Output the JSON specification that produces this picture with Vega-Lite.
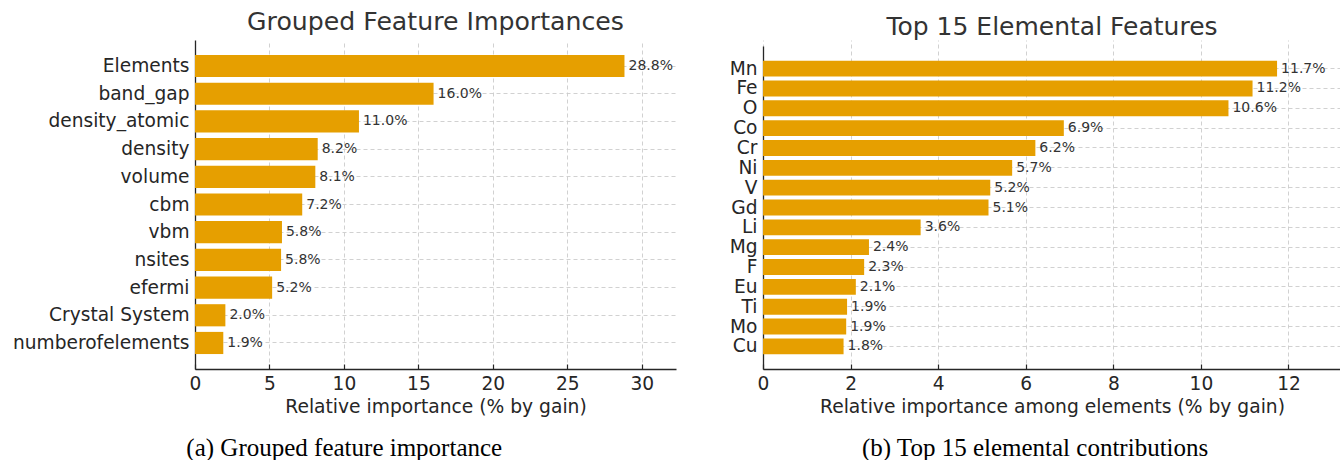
{
  "$schema": "https://vega.github.io/schema/vega-lite/v6.json",
  "padding": {"left": 12, "top": 9, "right": 0, "bottom": 0},
  "spacing": 53,
  "background": "white",
  "config": {
    "font": "DejaVu Sans",
    "view": {"stroke": null},
    "axis": {
      "domainColor": "#262626",
      "domainWidth": 1.3,
      "tickColor": "#262626",
      "tickSize": -5,
      "tickWidth": 1.2,
      "labelColor": "#262626",
      "labelFont": "DejaVu Sans",
      "labelFontSize": 18.6,
      "titleColor": "#262626",
      "titleFont": "DejaVu Sans",
      "titleFontSize": 18.7,
      "titleFontWeight": "normal",
      "gridColor": "#cccccc",
      "gridDash": [4, 3],
      "gridWidth": 0.9,
      "zindex": 1
    }
  },
  "datasets": {
    "grouped": [
      {"feature": "Elements", "importance": 28.84, "label": "28.8%"},
      {"feature": "band_gap", "importance": 16.02, "label": "16.0%"},
      {"feature": "density_atomic", "importance": 11.01, "label": "11.0%"},
      {"feature": "density", "importance": 8.24, "label": "8.2%"},
      {"feature": "volume", "importance": 8.08, "label": "8.1%"},
      {"feature": "cbm", "importance": 7.2, "label": "7.2%"},
      {"feature": "vbm", "importance": 5.84, "label": "5.8%"},
      {"feature": "nsites", "importance": 5.78, "label": "5.8%"},
      {"feature": "efermi", "importance": 5.18, "label": "5.2%"},
      {"feature": "Crystal System", "importance": 2.04, "label": "2.0%"},
      {"feature": "numberofelements", "importance": 1.9, "label": "1.9%"}
    ],
    "elements": [
      {"element": "Mn", "importance": 11.74, "label": "11.7%"},
      {"element": "Fe", "importance": 11.18, "label": "11.2%"},
      {"element": "O", "importance": 10.63, "label": "10.6%"},
      {"element": "Co", "importance": 6.87, "label": "6.9%"},
      {"element": "Cr", "importance": 6.22, "label": "6.2%"},
      {"element": "Ni", "importance": 5.69, "label": "5.7%"},
      {"element": "V", "importance": 5.19, "label": "5.2%"},
      {"element": "Gd", "importance": 5.15, "label": "5.1%"},
      {"element": "Li", "importance": 3.6, "label": "3.6%"},
      {"element": "Mg", "importance": 2.42, "label": "2.4%"},
      {"element": "F", "importance": 2.31, "label": "2.3%"},
      {"element": "Eu", "importance": 2.12, "label": "2.1%"},
      {"element": "Ti", "importance": 1.92, "label": "1.9%"},
      {"element": "Mo", "importance": 1.9, "label": "1.9%"},
      {"element": "Cu", "importance": 1.84, "label": "1.8%"}
    ]
  },
  "hconcat": [
    {
      "title": {"text": "(a) Grouped feature importance", "orient": "bottom", "anchor": "middle", "frame": "bounds", "font": "Liberation Serif", "fontSize": 25, "fontWeight": "normal", "color": "#000000", "offset": 20},
      "vconcat": [
        {
          "width": 481,
          "height": 329,
          "title": {"text": "Grouped Feature Importances", "anchor": "middle", "frame": "group", "fontSize": 25.2, "fontWeight": "normal", "color": "#333333", "offset": 8, "dy": 3},
          "data": {"name": "grouped"},
          "encoding": {
            "y": {"field": "feature", "type": "nominal", "sort": "-x",
              "scale": {"paddingInner": 0.2, "paddingOuter": 0.54},
              "axis": {"title": null, "grid": true, "labelPadding": 11}},
            "x": {"field": "importance", "type": "quantitative",
              "scale": {"domain": [0, 32.3], "nice": false, "zero": true},
              "axis": {"title": "Relative importance (% by gain)", "values": [0, 5, 10, 15, 20, 25, 30], "grid": true, "labelFlush": false, "labelPadding": 10, "titlePadding": 5}}
          },
          "layer": [
            {"mark": {"type": "bar", "color": "#E69F00"}},
            {"mark": {"type": "text", "align": "left", "baseline": "middle", "dx": 4, "fontSize": 14, "color": "#333333"},
             "encoding": {"text": {"field": "label", "type": "nominal"}}}
          ]
        }
      ]
    },
    {
      "title": {"text": "(b) Top 15 elemental contributions", "orient": "bottom", "anchor": "middle", "frame": "bounds", "font": "Liberation Serif", "fontSize": 25, "fontWeight": "normal", "color": "#000000", "offset": 20},
      "vconcat": [
        {
          "width": 578,
          "height": 329,
          "title": {"text": "Top 15 Elemental Features", "anchor": "middle", "frame": "group", "fontSize": 25, "fontWeight": "normal", "color": "#333333", "offset": 8, "dy": 8},
          "data": {"name": "elements"},
          "encoding": {
            "y": {"field": "element", "type": "nominal", "sort": "-x",
              "scale": {"paddingInner": 0.2, "paddingOuter": 0.74, "range": [6, 329]},
              "axis": {"title": null, "grid": true, "labelPadding": 11}},
            "x": {"field": "importance", "type": "quantitative",
              "scale": {"domain": [0, 13.2], "nice": false, "zero": true},
              "axis": {"title": "Relative importance among elements (% by gain)", "values": [0, 2, 4, 6, 8, 10, 12], "grid": true, "labelFlush": false, "labelPadding": 10, "titlePadding": 5}}
          },
          "layer": [
            {"mark": {"type": "bar", "color": "#E69F00"}},
            {"mark": {"type": "text", "align": "left", "baseline": "middle", "dx": 4, "fontSize": 14, "color": "#333333"},
             "encoding": {"text": {"field": "label", "type": "nominal"}}}
          ]
        }
      ]
    }
  ]
}
